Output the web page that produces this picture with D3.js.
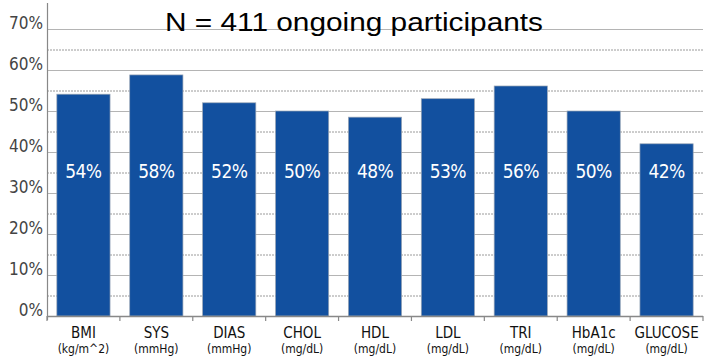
<!DOCTYPE html>
<html><head><meta charset="utf-8">
<script src="https://cdn.jsdelivr.net/npm/d3@7"></script>
<style>
html,body{margin:0;padding:0;background:#fff;}
svg{display:block;}
</style></head>
<body>
<svg id="chart" width="711" height="356"></svg>
<script>
const categories = ["BMI","SYS","DIAS","CHOL","HDL","LDL","TRI","HbA1c","GLUCOSE"];
const units = ["(kg/m^2)","(mmHg)","(mmHg)","(mg/dL)","(mg/dL)","(mg/dL)","(mg/dL)","(mg/dL)","(mg/dL)"];
const values = [54.1, 58.8, 52.0, 50.0, 48.5, 53.0, 56.1, 50.0, 42.0];
const valueLabels = ["54%","58%","52%","50%","48%","53%","56%","50%","42%"];
const yTicks = [0,10,20,30,40,50,60,70];
const yMinor = [5,15,25,35,45,55,65];
const title = "N = 411 ongoing participants";

const svg = d3.select("#chart");
const mLeft = 47, mRight = 703, mTop = 29, mBottom = 316;
const narrow = "'Liberation Sans Narrow','DejaVu Sans Condensed','Liberation Sans',sans-serif";

const x = d3.scaleBand().domain(categories).range([mLeft, mRight]).paddingInner(0.27).paddingOuter(0.135);
const y = d3.scaleLinear().domain([0,70]).range([mBottom, mTop]);

// minor dotted gridlines
svg.append("g").selectAll("line").data(yMinor).join("line")
  .attr("x1", mLeft).attr("x2", mRight)
  .attr("y1", d=>y(d)+0.5).attr("y2", d=>y(d)+0.5)
  .attr("stroke", "#9a9a9a").attr("stroke-width", 1).attr("stroke-dasharray", "2,1");

// major gridlines
svg.append("g").selectAll("line").data(yTicks.filter(d=>d>0)).join("line")
  .attr("x1", mLeft).attr("x2", mRight)
  .attr("y1", d=>y(d)+0.5).attr("y2", d=>y(d)+0.5)
  .attr("stroke", "#b4b4b4").attr("stroke-width", 1);

// bars
svg.append("g").selectAll("rect").data(values).join("rect")
  .attr("x", (d,i)=>x(categories[i]))
  .attr("width", x.bandwidth())
  .attr("y", d=>y(d))
  .attr("height", d=>mBottom - y(d))
  .attr("fill", "#12509f")
  .attr("stroke", "#9aa6b6").attr("stroke-width", 0.7);

// value labels
svg.append("g").selectAll("text").data(valueLabels).join("text")
  .attr("x", (d,i)=>x(categories[i]) + x.bandwidth()/2)
  .attr("y", 178)
  .attr("text-anchor", "middle")
  .attr("fill", "#fff")
  .attr("font-family", narrow)
  .attr("font-size", 19)
  .attr("letter-spacing", "-0.6")
  .text(d=>d);

// y axis
const yAxis = d3.axisLeft(y).tickValues(yTicks).tickFormat(d=>d+"%").tickSize(0).tickPadding(4);
const gy = svg.append("g").attr("transform", `translate(${mLeft},0)`).call(yAxis);
gy.select(".domain").remove();
gy.selectAll("text").attr("font-family", narrow).attr("font-size", 17).attr("fill", "#444").attr("dy", "-0.05em");
svg.append("line").attr("x1", mLeft+0.5).attr("x2", mLeft+0.5).attr("y1", 3).attr("y2", mBottom+4)
  .attr("stroke", "#888").attr("stroke-width", 1.2);

// x axis
svg.append("line").attr("x1", mLeft).attr("x2", mRight).attr("y1", mBottom+0.5).attr("y2", mBottom+0.5)
  .attr("stroke", "#888").attr("stroke-width", 1.5);
const bounds = categories.map(c=>x(c) - x.step()*x.paddingInner()/2).concat([mRight]);
svg.append("g").selectAll("line").data(bounds).join("line")
  .attr("x1", d=>d).attr("x2", d=>d).attr("y1", mBottom).attr("y2", mBottom+5)
  .attr("stroke", "#888").attr("stroke-width", 1.2);

const xl = svg.append("g");
xl.selectAll("text.cat").data(categories).join("text").attr("class","cat")
  .attr("x", d=>x(d)+x.bandwidth()/2).attr("y", 338)
  .attr("text-anchor","middle").attr("font-family", narrow).attr("font-size", 15).attr("fill","#111")
  .text(d=>d);
xl.selectAll("text.unit").data(units).join("text").attr("class","unit")
  .attr("x", (d,i)=>x(categories[i])+x.bandwidth()/2).attr("y", 353)
  .attr("text-anchor","middle").attr("font-family", narrow).attr("font-size", 12).attr("fill","#111")
  .text(d=>d);

// title
svg.append("text").attr("x", 354).attr("y", 31).attr("text-anchor","middle")
  .attr("font-family","'Liberation Sans',Arial,sans-serif").attr("font-size", 26).attr("fill","#000")
  .attr("textLength", 378).attr("lengthAdjust", "spacingAndGlyphs")
  .text(title);
</script>
</body></html>
